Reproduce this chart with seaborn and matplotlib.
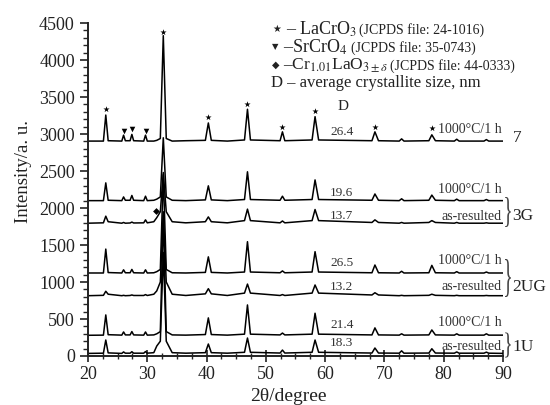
import matplotlib
matplotlib.use("Agg")
import matplotlib.pyplot as plt
from matplotlib.ticker import MultipleLocator
from matplotlib.textpath import TextPath
from matplotlib.patches import PathPatch
from matplotlib.font_manager import FontProperties
from matplotlib.transforms import Affine2D
import numpy as np
import pandas as pd
import seaborn as sns

# 2theta sample points shared by all traces
two_theta = [20.0, 22.6, 23.0, 23.4, 25.7, 26.0, 26.3, 27.1, 27.4, 27.7,
             29.4, 29.7, 30.0, 31.1, 31.6, 32.2, 32.7, 33.2, 34.2, 36.5,
             39.8, 40.3, 40.8, 43.5, 46.4, 46.9, 47.4, 52.4, 52.8, 53.2,
             57.8, 58.3, 58.9, 67.9, 68.4, 69.0, 72.5, 72.9, 73.3, 77.5,
             78.0, 78.6, 81.8, 82.2, 82.6, 86.8, 87.2, 87.6, 90.0]

s7_1000 = [2905, 2905, 3257, 2910, 2905, 2985, 2910, 2910, 2995, 2910,
           2905, 2985, 2905, 2905, 2915, 2940, 4330, 2940, 2905, 2910,
           2915, 3150, 2915, 2905, 2920, 3335, 2920, 2910, 3030, 2910,
           2920, 3235, 2920, 2910, 3030, 2910, 2905, 2935, 2905, 2910,
           2990, 2910, 2905, 2930, 2905, 2905, 2925, 2905, 2905]

s3g_1000 = [2100, 2100, 2340, 2105, 2100, 2150, 2105, 2105, 2170, 2105,
            2100, 2160, 2100, 2105, 2120, 2150, 2950, 2150, 2105, 2100,
            2110, 2300, 2110, 2100, 2115, 2490, 2115, 2105, 2160, 2105,
            2115, 2380, 2115, 2105, 2190, 2105, 2100, 2125, 2100, 2105,
            2175, 2105, 2100, 2120, 2100, 2100, 2115, 2100, 2100]

s3g_as = [1795, 1800, 1890, 1815, 1795, 1805, 1795, 1798, 1810, 1798,
          1800, 1840, 1800, 1815, 1870, 1950, 2480, 1950, 1815, 1800,
          1815, 1880, 1815, 1800, 1830, 1985, 1830, 1800, 1825, 1800,
          1830, 1980, 1830, 1805, 1840, 1805, 1795, 1805, 1795, 1805,
          1830, 1805, 1795, 1805, 1795, 1795, 1800, 1795, 1795]

s2ug_1000 = [1122, 1122, 1445, 1128, 1122, 1165, 1125, 1125, 1170, 1125,
             1122, 1165, 1122, 1125, 1140, 1170, 2450, 1170, 1125, 1122,
             1130, 1340, 1130, 1122, 1135, 1545, 1135, 1125, 1150, 1125,
             1135, 1410, 1135, 1125, 1230, 1125, 1122, 1145, 1122, 1125,
             1225, 1125, 1122, 1140, 1122, 1122, 1135, 1122, 1122]

s2ug_as = [815, 820, 875, 835, 815, 820, 815, 818, 825, 818,
           818, 830, 818, 835, 880, 1000, 1950, 1000, 835, 818,
           840, 910, 840, 818, 850, 972, 850, 818, 830, 818,
           850, 960, 850, 825, 855, 825, 815, 820, 815, 820,
           835, 820, 815, 820, 815, 815, 818, 815, 815]

s1u_1000 = [280, 282, 555, 288, 282, 325, 285, 285, 330, 285,
            282, 325, 282, 285, 300, 330, 1900, 330, 285, 282,
            290, 515, 290, 282, 295, 690, 295, 285, 310, 285,
            295, 578, 295, 285, 380, 285, 282, 300, 282, 285,
            352, 285, 282, 300, 282, 282, 300, 282, 282]

s1u_as = [35, 38, 216, 42, 35, 55, 38, 38, 58, 38,
          38, 60, 38, 45, 135, 200, 1400, 200, 45, 38,
          45, 162, 45, 38, 50, 243, 50, 40, 80, 40,
          50, 216, 50, 40, 108, 40, 38, 70, 38, 40,
          98, 40, 38, 55, 38, 38, 52, 38, 35]

series = {"7": s7_1000, "3G-1000": s3g_1000, "3G-as": s3g_as,
          "2UG-1000": s2ug_1000, "2UG-as": s2ug_as,
          "1U-1000": s1u_1000, "1U-as": s1u_as}

# phase markers
lacro3_x = [23.0, 32.7, 40.3, 46.9, 52.8, 58.3, 68.4, 78.0]
lacro3_y = [3340, 4385, 3230, 3405, 3100, 3305, 3100, 3085]
srcro4_x = [26.0, 27.4, 29.7]
srcro4_y = [3040, 3065, 3035]
cr_lao3_x = [31.5]
cr_lao3_y = [1965]

# crystallite size D and treatment labels
size_vals = ["26.4", "19.6", "13.7", "26.5", "13.2", "21.4", "18.3"]
size_y = [3031, 2207, 1892, 1252, 928, 419, 171]
treat_labels = ["1000°C/1 h", "1000°C/1 h", "as-resulted", "1000°C/1 h",
                "as-resulted", "1000°C/1 h", "as-resulted"]
treat_y = [3065, 2252, 1892, 1297, 937, 450, 135]
sample_names = ["7", "3G", "2UG", "1U"]
sample_y = [2941, 1892, 928, 126]

df = pd.concat([pd.DataFrame({"two_theta": two_theta, "intensity": v, "pattern": k})
                for k, v in series.items()], ignore_index=True)

sns.set_theme(style="ticks")
plt.rcParams["font.family"] = ["Liberation Serif", "DejaVu Serif"]
plt.rcParams["mathtext.fontset"] = "stix"

W, H = 550, 405
fig = plt.figure(figsize=(5.5, 4.05), dpi=100)
ax = fig.add_axes([0.16, 0.121, 0.7545, 0.822])

sns.lineplot(data=df, x="two_theta", y="intensity", units="pattern", estimator=None,
             color="black", lw=1.1, ax=ax, legend=False)

ax.scatter(lacro3_x, lacro3_y, marker="*", s=22, color="black", zorder=5, linewidths=0)
ax.scatter(srcro4_x, srcro4_y, marker="v", s=16, color="black", zorder=5, linewidths=0)
ax.scatter(cr_lao3_x, cr_lao3_y, marker="D", s=12, color="black", zorder=5, linewidths=0)

ax.set_xlim(20, 90)
ax.set_ylim(0, 4500)
ax.xaxis.set_major_locator(MultipleLocator(10))
ax.xaxis.set_minor_locator(MultipleLocator(2.5))
ax.yaxis.set_major_locator(MultipleLocator(500))
ax.yaxis.set_minor_locator(MultipleLocator(100))
ax.tick_params(axis="x", which="major", direction="inout", length=8, width=1.2, labelsize=13, colors="#222222")
ax.tick_params(axis="x", which="minor", direction="inout", length=5, width=1.0)
ax.tick_params(axis="y", which="major", direction="out", length=6, width=1.2, labelsize=13, colors="#222222")
ax.tick_params(axis="y", which="minor", direction="out", length=3.5, width=1.0)
sns.despine(ax=ax)
for sp in ["left", "bottom"]:
    ax.spines[sp].set_linewidth(1.4)
    ax.spines[sp].set_color("#222222")

ax.set_xlabel("2θ/degree", fontsize=14, color="#222222")
ax.set_ylabel("Intensity/a. u.", fontsize=13.5, color="#222222")
ax.xaxis.set_label_coords(0.484, -0.095)
ax.yaxis.set_label_coords(-0.135, 0.555)

for v, y in zip(size_vals, size_y):
    ax.text(62.8, y, v, fontsize=9.5, ha="center", va="center", color="#333333")
ax.text(63.1, 3378, "D", fontsize=11, ha="center", va="center", color="#222222")
for t, y in zip(treat_labels, treat_y):
    ax.text(89.8, y, t, fontsize=10, ha="right", va="center", color="#333333")
for n, y in zip(sample_names, sample_y):
    ax.text(91.6, y, n, fontsize=12.5, ha="left", va="center", color="#222222", clip_on=False)

# thin curly braces grouping the sample pairs (pixel placement)
brace = TextPath((0, 0), "}", size=1, prop=FontProperties(family="Liberation Serif"))
bb = brace.get_extents()
for cy, hpx in [(212, 30), (278, 38), (345, 25)]:
    tr = (Affine2D().translate(-bb.x0, -(bb.y0 + bb.y1) / 2)
          .scale(6 / bb.width, hpx / bb.height).translate(505, H - cy))
    fig.add_artist(PathPatch(brace, transform=tr, facecolor="#444444", edgecolor="none"))

# phase key in the upper right
def ftxt(px, py, s, **kw):
    fig.text(px / W, 1 - py / H, s, va="center", color="#222222", **kw)

ftxt(272, 29, "★", fontsize=7, family=["DejaVu Sans"])
ftxt(286, 29, "– LaCrO$_3$", fontsize=13)
ftxt(359, 30, "(JCPDS file: 24-1016)", fontsize=10)
ftxt(272, 47, "▼", fontsize=6, family=["DejaVu Sans"])
ftxt(283, 47, "–SrCrO$_4$", fontsize=13)
ftxt(351, 48, "(JCPDS file: 35-0743)", fontsize=10)
ftxt(272, 65, "◆", fontsize=7, family=["DejaVu Sans"])
ftxt(283, 65, "–Cr$_{1.01}$LaO$_{3\\pm\\delta}$", fontsize=12.5)
ftxt(390, 66, "(JCPDS file: 44-0333)", fontsize=10)
ftxt(271, 83, "D – average crystallite size, nm", fontsize=12)

fig.savefig("out.png", dpi=100)
